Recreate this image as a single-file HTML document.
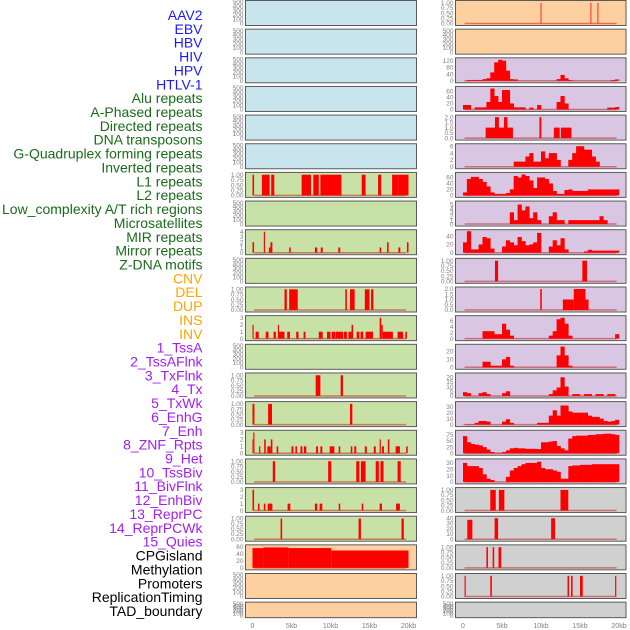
<!DOCTYPE html>
<html><head><meta charset="utf-8">
<style>
html,body{margin:0;padding:0;background:#fff;}
svg{display:block;font-family:"Liberation Sans",sans-serif;}
</style></head>
<body>
<svg id="chart" width="630" height="630" viewBox="0 0 630 630" xmlns="http://www.w3.org/2000/svg"></svg>
<script>
// ---- labels ----
const trackLabels = ["AAV2","EBV","HBV","HIV","HPV","HTLV-1","Alu repeats","A-Phased repeats","Directed repeats","DNA transposons","G-Quadruplex forming repeats","Inverted repeats","L1 repeats","L2 repeats","Low_complexity A/T rich regions","Microsatellites","MIR repeats","Mirror repeats","Z-DNA motifs","CNV","DEL","DUP","INS","INV","1_TssA","2_TssAFlnk","3_TxFlnk","4_Tx","5_TxWk","6_EnhG","7_Enh","8_ZNF_Rpts","9_Het","10_TssBiv","11_BivFlnk","12_EnhBiv","13_ReprPC","14_ReprPCWk","15_Quies","CPGisland","Methylation","Promoters","ReplicationTiming","TAD_boundary"];
const labelColors = ["#1a1aff","#1a1aff","#1a1aff","#1a1aff","#1a1aff","#1a1aff","#1a6b1a","#1a6b1a","#1a6b1a","#1a6b1a","#1a6b1a","#1a6b1a","#1a6b1a","#1a6b1a","#1a6b1a","#1a6b1a","#1a6b1a","#1a6b1a","#1a6b1a","#ffa500","#ffa500","#ffa500","#ffa500","#ffa500","#a020f0","#a020f0","#a020f0","#a020f0","#a020f0","#a020f0","#a020f0","#a020f0","#a020f0","#a020f0","#a020f0","#a020f0","#a020f0","#a020f0","#a020f0","#000","#000","#000","#000","#000"];
const xTickValues = [0,5,10,15,20];
const xTickLabels = ["0","5kb","10kb","15kb","20kb"];

// ---- tick sets ----
const tEmpty = [0,100,200,300,400,500];
const tBin = [0,0.25,0.5,0.75,1];
const t3 = [0,1,2,3];
const t4 = [0,1,2,3,4];
const t60 = [0,20,40,60];
const t120 = [0,40,80,120];
const t2 = [0,0.5,1,1.5,2];
const t6 = [0,2,4,6];
const t5 = [0,1,2,3,4,5];
const t40 = [0,20,40];
const t20a = [0,10,20];
const t20b = [0,5,10,15,20];
const t30 = [0,10,20,30];
const t75 = [0,25,50,75];
const t40b = [0,10,20,30,40];

// ---- left column interval data [startKb, endKb, value] ----
const left6 = [[0,0.2,1],[1.2,2.2,1],[2.4,2.8,1],[6.3,7.5,1],[7.8,8.5,1],[8.7,11.4,1],[14.0,14.5,1],[16.1,16.5,1],[17.9,18.7,1],[18.7,20,1]];
const left8 = [[0,0.2,2],[1.45,1.6,4],[2.1,2.3,1],[2.3,2.55,2],[4.7,4.9,1],[8.0,8.3,1],[8.75,9.0,1],[11.0,11.25,1],[16.3,16.5,1],[17.25,17.45,2],[18.7,18.95,1],[19.8,20.0,2]];
const left10 = [[4.1,4.4,1],[4.7,5.8,1],[11.9,12.1,1],[12.5,13.1,1],[14.4,15.0,1],[15.2,15.5,1]];
const left11 = [[0,0.15,2],[0.4,0.8,1],[1.7,2.05,1],[2.7,3.0,1],[3.25,3.4,2],[3.4,4.1,1],[4.45,4.8,1],[5.6,5.9,1],[6.55,6.8,1],[8.5,9.0,1],[9.55,10.0,1],[10.15,10.6,1],[10.65,11.6,1],[11.7,12.1,1],[12.3,12.7,1],[12.7,12.9,2],[13.35,13.7,1],[13.85,14.2,1],[14.5,15.45,1],[16.3,16.5,3],[16.5,16.7,2],[16.7,18.0,1],[18.6,19.3,1],[19.6,19.8,1]];
const left13 = [[8.1,8.7,1],[11.3,11.6,1]];
const left14 = [[0,0.25,1],[2.0,2.5,1],[12.5,12.8,1]];
const left15 = [[0,0.1,2],[0.1,0.25,3],[0.85,1.0,1],[1.5,1.7,2],[1.9,2.35,1],[2.35,2.55,2],[3.1,3.3,1],[5.0,5.25,1],[5.5,5.7,1],[6.15,6.4,1],[6.6,6.9,1],[8.15,8.4,1],[8.7,8.95,1],[9.9,10.5,1],[11.05,11.25,1],[12.6,12.8,1],[13.05,13.3,1],[14.4,14.65,1],[15.55,15.8,1],[16.3,16.45,2],[16.6,16.85,1],[17.35,17.55,2],[18.35,18.9,1],[19.7,19.9,1]];
const left16 = [[2.6,2.9,1],[9.7,10.1,1],[13.3,13.7,1],[13.9,14.5,1],[15.8,16.2,1],[16.4,16.8,1],[18.6,19.0,1]];
const left17 = [[0,0.2,3],[0.7,0.9,1],[1.45,1.65,1],[1.95,2.55,1],[4.5,4.85,1],[8.0,8.3,1],[8.6,8.95,1],[11.05,11.25,1],[14.0,14.2,1],[16.3,16.6,1],[18.4,18.9,1]];
const left18 = [[3.6,3.8,1],[13.6,13.9,1],[19.1,19.4,1]];
const left19 = [[0,1.4,57],[1.4,4.6,59],[4.6,10.1,57],[10.1,20,50]];

// ---- right column data ----
const right0 = [[9.95,10.05,1],[16.35,16.45,1],[17.25,17.35,1]];
// binned profiles, 0.5kb bins from 0 to 20kb
const right2 = [0,5,5,5,5,10,15,50,110,125,120,60,10,8,0,0,0,0,0,0,0,0,0,0,10,35,15,5,0,0,0,0,0,0,0,0,0,0,5,8];
const right3 = [15,15,0,7,7,7,25,70,45,25,65,65,20,7,7,7,0,6,0,15,0,0,0,0,25,45,20,0,0,0,0,0,0,0,0,0,0,6,6,8];
const right4 = [[2.9,6.4,1],[4.1,4.6,2],[5.25,5.7,2],[9.8,10.05,2],[11.65,12.4,1],[12.55,13.9,1]];
const right5 = [0,0,0,0,0,0,0,0,0,0,0,0,0,1.5,1.5,1.5,3,4,1.5,1.5,4.5,2.5,4,4,2,0,0,2,4,6,6,5,5,3,1.5,0,0,0,0,0];
const right6 = [10,55,62,62,55,45,30,10,5,5,5,8,20,65,60,70,65,50,25,60,60,55,40,15,5,5,18,20,15,15,15,15,20,20,20,20,20,20,20,20];
const right7 = [0,0,0,0,0,0,0,0,0,0,0,0,3,1,5,3.5,4.5,1.5,3,1,0,0,2,3,1,1,0,1,1,1,1,1,1,1,1,2,1,0,0,0];
const right8 = [25,52,8,8,20,38,35,10,0,0,15,30,25,18,38,28,18,20,25,48,0,0,15,30,18,35,8,0,0,0,0,3,7,5,5,5,5,5,5,5];
const right9 = [[4.1,4.5,1],[15.3,15.9,1]];
const right10 = [[9.9,10.1,2],[12.8,14.2,1],[14.2,15.7,2],[15.7,16.1,1]];
const right11 = [0,0,0,0,0,2.5,2.5,2.5,1.5,1.5,5,3,1,0,0,0,0,0,0,0,0,0,1,2.5,6.5,7,5,1,0,0,0,0,0,0,0,0,0,0,0,1.5];
const right12 = [0,0,0,0,0,7,7,2,2,2,10,13,2,0,0,0,0,0,0,0,0,0,0,0,15,26,15,2,0,0,0,0,0,0,0,0,0,0,0,0];
const right13 = [4,3,0,0,3,4,2,0,0,0,3,5,0,0,0,0,0,0,0,0,0,0,2,6,9,20,10,0,2,2,0,2,2,0,2,2,0,2,2,0];
const right14 = [0.5,0.5,0.5,3,6,6,5,0,0,0,5,9,3,0,0,0,0,0,0,3,3,3,15,24,15,32,32,22,20,20,20,20,15,13,13,10,6,5,6,8];
const right15 = [70,45,38,35,32,25,15,5,2,2,5,12,20,22,20,20,18,18,18,17,45,45,48,50,30,20,12,60,70,72,72,72,75,75,78,78,80,80,78,75];
const right16 = [30,25,25,25,22,12,5,3,0,0,0,8,18,22,25,28,30,30,30,32,22,20,20,18,16,5,5,25,26,26,27,27,27,28,28,28,28,28,28,28];
const right17 = [[3.5,4.2,1],[4.6,5.3,1],[12.5,13.5,1]];
const right18 = [[0.55,1.2,37],[4.05,4.5,40],[11.3,11.8,40]];
const right19 = [[3.0,3.2,1],[3.8,4.0,1],[4.55,4.9,1]];
const right20 = [[0.2,0.35,1],[3.5,3.7,1],[13.4,13.6,1],[13.85,14.05,1],[15.0,15.35,1],[19.5,19.65,1]];

const BLUE="#c8e4ec", GREEN="#c8e1a6", PEACH="#ffd09f", LAV="#d8c6e2", GRAY="#d0d0d0";
// panel definitions: [bg, ticks, domainMax, intervals|null, bins|null]
const leftPanels = [
 [BLUE,tEmpty,500,null,null],[BLUE,tEmpty,500,null,null],[BLUE,tEmpty,500,null,null],
 [BLUE,tEmpty,500,null,null],[BLUE,tEmpty,500,null,null],[BLUE,tEmpty,500,null,null],
 [GREEN,tBin,1.04,left6,null],[GREEN,tEmpty,500,null,null],[GREEN,t4,4.1,left8,null],
 [GREEN,tEmpty,500,null,null],[GREEN,tBin,1.04,left10,null],[GREEN,t3,3.1,left11,null],
 [GREEN,tEmpty,500,null,null],[GREEN,tBin,1.04,left13,null],[GREEN,tBin,1.04,left14,null],
 [GREEN,t3,3.1,left15,null],[GREEN,tBin,1.04,left16,null],[GREEN,t3,3.1,left17,null],
 [GREEN,tBin,1.04,left18,null],[PEACH,t60,62,left19,null],[PEACH,tEmpty,500,null,null],
 [PEACH,tEmpty,500,null,null]
];
const rightPanels = [
 [PEACH,tBin,1.04,right0,null],[PEACH,tEmpty,500,null,null],
 [LAV,t120,128,null,right2],[LAV,t60,72,null,right3],[LAV,t2,2.05,right4,null],
 [LAV,t6,6.3,null,right5],[LAV,t60,72,null,right6],[LAV,t5,5.5,null,right7],
 [LAV,t40,52,null,right8],[LAV,tBin,1.04,right9,null],[LAV,t2,2.05,right10,null],
 [LAV,t6,7.2,null,right11],[LAV,t20a,27,null,right12],[LAV,t20b,23,null,right13],
 [LAV,t30,36,null,right14],[LAV,t75,88,null,right15],[LAV,t30,34,null,right16],
 [GRAY,tBin,1.04,right17,null],[GRAY,t40b,41,right18,null],[GRAY,tBin,1.04,right19,null],
 [GRAY,tBin,1.04,right20,null],[GRAY,tEmpty,500,null,null]
];

const NS="http://www.w3.org/2000/svg";
const svg=document.getElementById('chart');
function mk(tag,attrs,parent){const e=document.createElementNS(NS,tag);for(const k in attrs)e.setAttribute(k,attrs[k]);(parent||svg).appendChild(e);return e;}

// labels
trackLabels.forEach((t,i)=>{
  const e=mk('text',{x:202.5,y:15+i*13.86+5,'text-anchor':'end','font-size':'14',fill:labelColors[i]});
  e.textContent=t;
  
  
});

function fmt(v,ticks){
  if(ticks===tBin) return v.toFixed(2);
  if(ticks===t2) return v.toFixed(1);
  return String(v);
}

function drawColumn(panels,px0,px1,dataX0,side){
  const kbScale=kb=>dataX0+kb*7.8;
  panels.forEach((p,i)=>{
    const [bg,ticks,dmax,intervals,bins]=p;
    const top=i*28.65+0.5;
    const h=(i===21)?15.5:25;
    const g=mk('g',{});
    
    
    const bgR=mk('rect',{x:px0,y:top,width:px1-px0,height:h,fill:bg,stroke:'#5a5a5a','stroke-width':1},g);
    
    
    const y0=top+h-2, y1=top+1.5;
    const yScale=v=>y0-(v/dmax)*(y0-y1);
    // ticks
    ticks.forEach(v=>{
      const t=mk('text',{x:px0-2,y:yScale(v)+2.2,'text-anchor':'end','font-size':'6.5',fill:'#808080'},g);
      t.textContent=fmt(v,ticks);
      
      
    });
    const hasData=intervals||bins;
    if(hasData){
      const base=mk('line',{x1:kbScale(0.2),x2:kbScale(19.7),y1:y0,y2:y0,stroke:'rgba(190,0,0,0.45)','stroke-width':1.5},g);
      
      
    }
    if(intervals){
      intervals.forEach(d=>{
        const x=kbScale(d[0]), w=Math.max(0.8,kbScale(d[1])-x), y=yScale(d[2]);
        const r=mk('rect',{x:x,y:Math.max(top,y),width:w,height:y0-Math.max(top,y),fill:'#ff0000'},g);
        
        
      });
    }
    if(bins){
      bins.forEach((v,j)=>{
        if(v<=0)return;
        const x=kbScale(j*0.5), w=kbScale((j+1)*0.5)-x+0.3, y=Math.max(top,yScale(v));
        const r=mk('rect',{x:x,y:y,width:w,height:y0-y,fill:'#ff0000'},g);
        
        
      });
    }
  });
  // x axis
  xTickValues.forEach((v,k)=>{
    const t=mk('text',{x:kbScale(v),y:628,'text-anchor':'middle','font-size':'7',fill:'#808080'});
    t.textContent=xTickLabels[k];
    
    
  });
}
drawColumn(leftPanels,245.5,416.5,252.5,'left');
drawColumn(rightPanels,455.5,626,463,'right');
</script>
</body></html>
